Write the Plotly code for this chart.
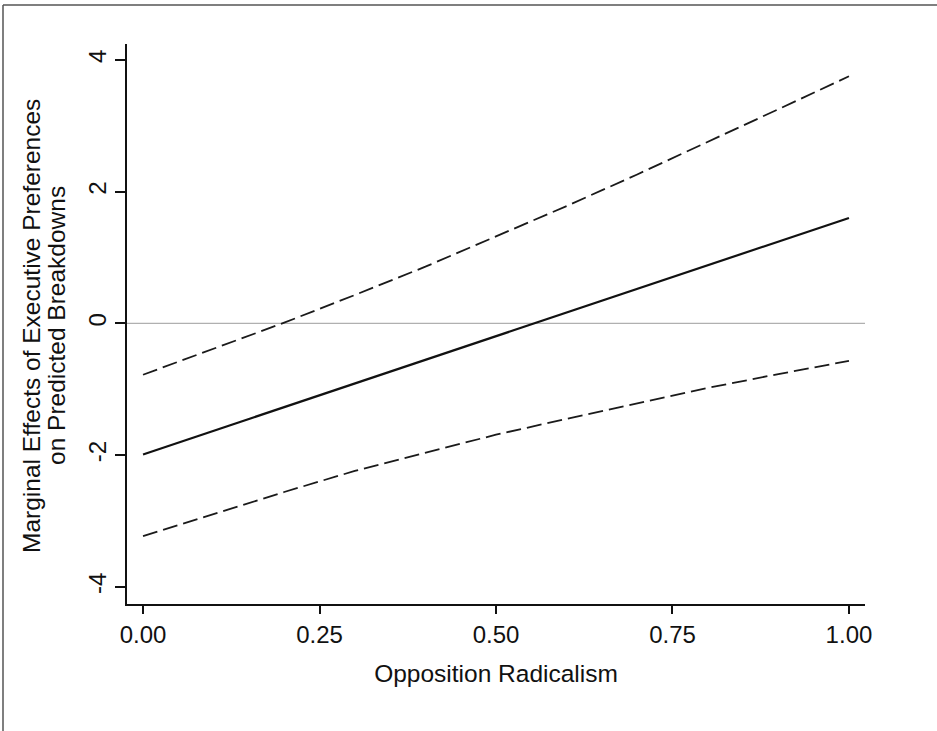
import plotly.graph_objects as go

# Data
x_vals = [0.0, 0.1, 0.2, 0.3, 0.4, 0.5, 0.6, 0.7, 0.8, 0.9, 1.0]
upper_ci = [-0.78, -0.39, 0.01, 0.43, 0.86, 1.32, 1.78, 2.26, 2.75, 3.25, 3.75]
lower_ci = [-3.23, -2.89, -2.56, -2.24, -1.96, -1.69, -1.45, -1.21, -0.98, -0.77, -0.57]
effect_x = [0.0, 1.0]
effect_y = [-1.99, 1.60]
zero_x = [-0.0227, 1.0227]
zero_y = [0, 0]

x_ticks = [0.0, 0.25, 0.5, 0.75, 1.0]
x_ticklabels = ["0.00", "0.25", "0.50", "0.75", "1.00"]
y_ticks = [-4, -2, 0, 2, 4]
y_ticklabels = ["-4", "-2", "0", "2", "4"]
y_title_lines = ["Marginal Effects of Executive Preferences", "on Predicted Breakdowns"]

FONT = "Liberation Sans, Arial, Helvetica, sans-serif"
TITLE_SIZE = 24.5
TICK_SIZE = 24

fig = go.Figure()
fig.add_trace(go.Scatter(x=zero_x, y=zero_y, mode="lines",
                         line=dict(color="#b0b0b0", width=1.2),
                         hoverinfo="skip", showlegend=False))
fig.add_trace(go.Scatter(x=x_vals, y=upper_ci, mode="lines",
                         line=dict(color="#1a1a1a", width=1.8, dash="15px,6px"),
                         showlegend=False))
fig.add_trace(go.Scatter(x=x_vals, y=lower_ci, mode="lines",
                         line=dict(color="#1a1a1a", width=1.8, dash="15px,6px"),
                         showlegend=False))
fig.add_trace(go.Scatter(x=effect_x, y=effect_y, mode="lines",
                         line=dict(color="#111111", width=2.2),
                         showlegend=False))

L, R, T, B = 127, 72, 44, 127
W, H = 937, 731
pw, ph = W - L - R, H - T - B

def px_x(p):
    return (p - L) / pw

def px_y(p):
    return (H - B - p) / ph

title_x_px = [31, 56]
annotations = [
    dict(text=t, xref="paper", yref="paper", x=px_x(xp), y=px_y(326),
         xanchor="center", yanchor="middle", textangle=-90, showarrow=False,
         font=dict(size=TITLE_SIZE, family=FONT, color="#111111"))
    for t, xp in zip(y_title_lines, title_x_px)
]

fig.update_layout(
    width=W, height=H,
    margin=dict(l=L, r=R, t=T, b=B, autoexpand=False),
    paper_bgcolor="white", plot_bgcolor="white",
    font=dict(family=FONT, color="#111111", size=TICK_SIZE),
    showlegend=False,
    xaxis=dict(
        range=[-0.0227, 1.0227],
        tickvals=x_ticks, ticktext=x_ticklabels,
        showgrid=False, zeroline=False,
        showline=True, linecolor="#111111", linewidth=1.6,
        ticks="outside", ticklen=8, tickwidth=1.6, tickcolor="#111111",
        tickfont=dict(size=TICK_SIZE, family=FONT),
        title=dict(text="Opposition Radicalism", font=dict(size=TITLE_SIZE, family=FONT), standoff=18),
        automargin=False,
    ),
    yaxis=dict(
        range=[-4.26, 4.24],
        tickvals=y_ticks, ticktext=y_ticklabels, tickangle=-90,
        showgrid=False, zeroline=False,
        showline=True, linecolor="#111111", linewidth=1.6,
        ticks="outside", ticklen=10, tickwidth=1.6, tickcolor="#111111",
        tickfont=dict(size=TICK_SIZE, family=FONT),
        automargin=False,
    ),
    annotations=annotations,
    shapes=[
        dict(type="line", xref="paper", yref="paper",
             x0=px_x(3), x1=px_x(W + 20), y0=px_y(5), y1=px_y(5),
             line=dict(color="#555555", width=1.5)),
        dict(type="line", xref="paper", yref="paper",
             x0=px_x(3), x1=px_x(3), y0=px_y(5), y1=px_y(H + 20),
             line=dict(color="#555555", width=1.5)),
    ],
)

fig.write_html("out.html")
